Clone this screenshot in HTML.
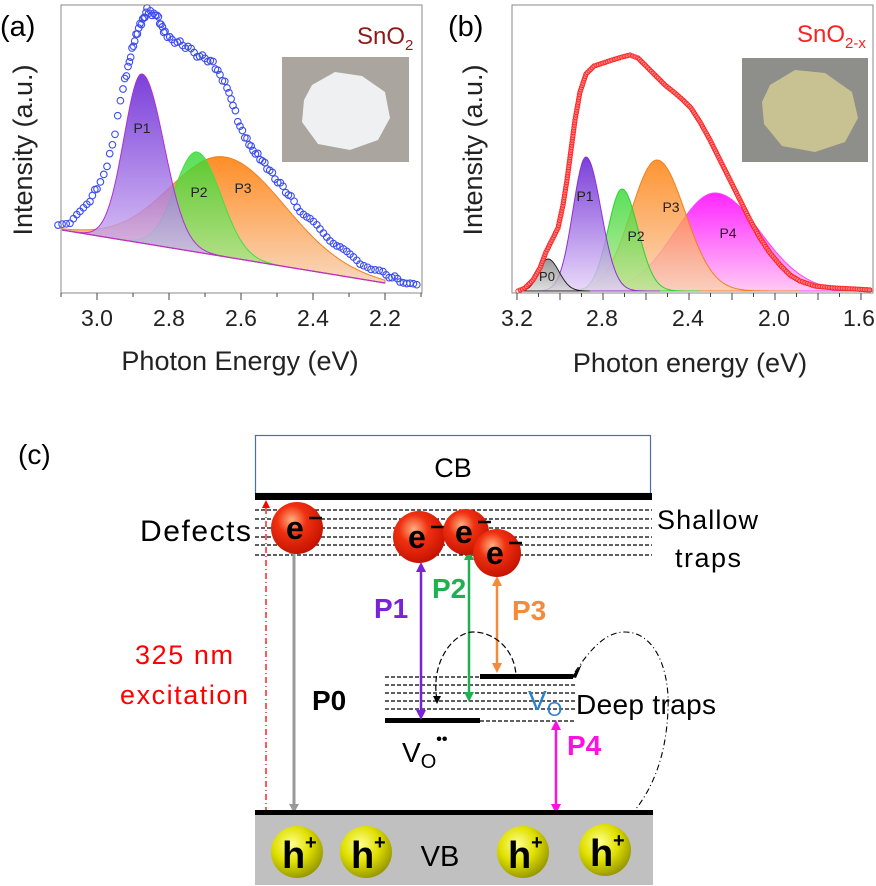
<!DOCTYPE html>
<html><head><meta charset="utf-8"><style>
body{margin:0;background:#fff}
svg{display:block;font-family:"Liberation Sans",sans-serif}
</style></head><body>
<svg id="s" width="876" height="886" viewBox="0 0 876 886" xmlns="http://www.w3.org/2000/svg">
<defs>
<linearGradient id="gP" x1="0" y1="0" x2="0" y2="1"><stop offset="0" stop-color="#5a10d0"/><stop offset="1" stop-color="#e4d0f8"/></linearGradient>
<linearGradient id="gG" x1="0" y1="0" x2="0" y2="1"><stop offset="0" stop-color="#30d830"/><stop offset="1" stop-color="#b8e890"/></linearGradient>
<linearGradient id="gO" x1="0" y1="0" x2="0" y2="1"><stop offset="0" stop-color="#ff7a00"/><stop offset="1" stop-color="#f8d0b0"/></linearGradient>
<linearGradient id="gM" x1="0" y1="0" x2="0" y2="1"><stop offset="0" stop-color="#ff00ff"/><stop offset="1" stop-color="#ffc0f4"/></linearGradient>
<linearGradient id="gK" x1="0" y1="0" x2="0" y2="1"><stop offset="0" stop-color="#808080"/><stop offset="1" stop-color="#d8d8d8"/></linearGradient>
<radialGradient id="rE" cx="0.4" cy="0.35" r="0.7"><stop offset="0" stop-color="#ffb080"/><stop offset="0.4" stop-color="#f03010"/><stop offset="1" stop-color="#c01000"/></radialGradient>
<radialGradient id="rH" cx="0.4" cy="0.35" r="0.7"><stop offset="0" stop-color="#ffff90"/><stop offset="0.5" stop-color="#e0e000"/><stop offset="1" stop-color="#909000"/></radialGradient>
</defs>
<g id="pa"></g>
<g id="pb"></g>
<rect x="61" y="5" width="361" height="288" fill="none" stroke="#888" stroke-width="1"/>
<rect x="282" y="57" width="127" height="105" fill="#aaa59e"/>
<path d="M312,85 L335,72 L362,76 L385,92 L390,118 L378,140 L350,150 L318,144 L302,122 L304,100Z" fill="#eef0f2"/>
<text x="0" y="36" font-size="29">(a)</text>
<text x="357" y="44" font-size="24" fill="#8b1a1a">SnO<tspan font-size="15" dy="6">2</tspan></text>
<text transform="translate(32,150) rotate(-90)" text-anchor="middle" font-size="27" fill="#222">Intensity (a.u.)</text>
<g font-size="23" text-anchor="middle" fill="#222">
<text x="97" y="326">3.0</text><text x="169" y="326">2.8</text><text x="241" y="326">2.6</text><text x="313" y="326">2.4</text><text x="385" y="326">2.2</text>
</g>
<text x="240" y="370" font-size="27" text-anchor="middle" fill="#222">Photon Energy (eV)</text>
<rect x="512" y="5" width="361" height="288" fill="none" stroke="#888" stroke-width="1"/>
<rect x="742" y="58" width="126" height="104" fill="#8e8f8a"/>
<path d="M770,85 L795,70 L825,73 L852,92 L858,118 L845,142 L815,152 L782,146 L764,124 L762,102Z" fill="#c8c292"/>
<text x="448" y="36" font-size="29">(b)</text>
<text x="797" y="42" font-size="24" fill="#ff2020">SnO<tspan font-size="15" dy="6">2-x</tspan></text>
<text transform="translate(482,150) rotate(-90)" text-anchor="middle" font-size="27" fill="#222">Intensity (a.u.)</text>
<g font-size="23" text-anchor="middle" fill="#222">
<text x="517" y="326">3.2</text><text x="602" y="326">2.8</text><text x="688" y="326">2.4</text><text x="774" y="326">2.0</text><text x="859" y="326">1.6</text>
</g>
<text x="690" y="372" font-size="27" text-anchor="middle" fill="#222">Photon energy (eV)</text>
<g id="ticks" stroke="#444" stroke-width="1"></g>

<text x="18" y="464" font-size="28">(c)</text>
<rect x="255.5" y="435.5" width="395" height="58" fill="#fff" stroke="#4a6fb0" stroke-width="1.2"/>
<text x="453" y="477" font-size="27" text-anchor="middle">CB</text>
<rect x="255" y="493" width="397" height="7" fill="#000"/>
<g stroke="#000" stroke-width="1.3" stroke-dasharray="4,2">
<line x1="255" y1="510" x2="652" y2="510"/><line x1="255" y1="519" x2="652" y2="519"/><line x1="255" y1="528" x2="652" y2="528"/><line x1="255" y1="537" x2="652" y2="537"/><line x1="255" y1="545" x2="652" y2="545"/><line x1="255" y1="555" x2="652" y2="555"/>
<line x1="385" y1="677" x2="575" y2="677"/><line x1="385" y1="685" x2="575" y2="685"/><line x1="385" y1="693" x2="575" y2="693"/><line x1="385" y1="701" x2="575" y2="701"/><line x1="385" y1="709" x2="575" y2="709"/><line x1="480" y1="721" x2="575" y2="721"/>
</g>
<text x="251" y="541" font-size="30" text-anchor="end" textLength="111">Defects</text>
<text x="657" y="529" font-size="27" textLength="101">Shallow</text>
<text x="675" y="567" font-size="27" textLength="66">traps</text>
<line x1="266" y1="813" x2="266" y2="506" stroke="#f00" stroke-width="1.3" stroke-dasharray="6,3,1,3"/>
<path d="M262,508L266,500L270,508z" fill="#f00"/>
<text x="184" y="664" font-size="27" fill="#f00" text-anchor="middle" textLength="98">325 nm</text>
<text x="184" y="704" font-size="27" fill="#f00" text-anchor="middle" textLength="128">excitation</text>
<line x1="294" y1="552" x2="294" y2="806" stroke="#999" stroke-width="3"/>
<path d="M289,554L294,545L299,554z M289,804L294,813L299,804z" fill="#999"/>
<text x="312" y="710" font-size="28" font-weight="bold">P0</text>
<rect x="385" y="718" width="95" height="5" fill="#000"/>
<rect x="480" y="674" width="93" height="5" fill="#000"/>
<text x="402" y="762" font-size="28">V<tspan font-size="20" dy="6">O</tspan><tspan font-size="16" dy="-24" font-weight="bold">••</tspan></text>
<text x="528" y="710" font-size="28" fill="#2a80d0">V<tspan font-size="20" dy="6">O</tspan></text>
<text x="576" y="714" font-size="28" textLength="140">Deep traps</text>
<g stroke-width="2.5">
<line x1="421" y1="570" x2="421" y2="712" stroke="#7a22d8"/>
<line x1="469" y1="558" x2="469" y2="694" stroke="#1fb050"/>
<line x1="497" y1="584" x2="497" y2="665" stroke="#f58a3a"/>
<line x1="556" y1="728" x2="556" y2="806" stroke="#ff10e0"/>
</g>
<path d="M416,572L421,562L426,572z M416,710L421,720L426,710z" fill="#7a22d8"/>
<path d="M464,560L469,550L474,560z M464,692L469,702L474,692z" fill="#1fb050"/>
<path d="M492,586L497,576L502,586z M492,663L497,673L502,663z" fill="#f58a3a"/>
<path d="M551,730L556,720L561,730z M551,804L556,814L561,804z" fill="#ff10e0"/>
<text x="374" y="618" font-size="28" font-weight="bold" fill="#7a22d8">P1</text>
<text x="432" y="598" font-size="28" font-weight="bold" fill="#1fb050">P2</text>
<text x="512" y="620" font-size="28" font-weight="bold" fill="#f58a3a">P3</text>
<text x="567" y="755" font-size="28" font-weight="bold" fill="#ff10e0">P4</text>
<path d="M437,700 C430,660 455,632 473,632 C495,632 515,650 516,676" fill="none" stroke="#000" stroke-width="1.2" stroke-dasharray="6,3"/>
<path d="M433,696L437,704L441,696z" fill="#000"/>
<path d="M575,672 C590,650 605,632 625,632 C655,632 670,670 668,710 C666,760 650,800 618,828" fill="none" stroke="#000" stroke-width="1.1" stroke-dasharray="6,3,1,3"/>
<path d="M572,676L582,664L576,678z" fill="#000"/>
<rect x="255" y="815" width="398" height="70" fill="#c0c0c0"/>
<rect x="255" y="810" width="398" height="5" fill="#000"/>
<text x="440" y="866" font-size="29" text-anchor="middle">VB</text>
<g id="balls"></g>
</svg>
<script>
const NS="http://www.w3.org/2000/svg";
function el(p,t,a){const e=document.createElementNS(NS,t);for(const k in a)e.setAttribute(k,a[k]);p.appendChild(e);return e;}
const tk=document.getElementById('ticks');
for(let i=0;i<=10;i++){const x=61+i*36;el(tk,'line',{x1:x,y1:293,x2:x,y2:i%2==1?300:297});}
for(let i=0;i<=16;i++){const x=517+i*21.5;if(x>873)break;el(tk,'line',{x1:x,y1:293,x2:x,y2:i%2==0?300:297});}
const pa=document.getElementById('pa');
function base(x){return 230+(x-62)*53/323;}
function gpath(c,h,sl,sr,x0,x1,bf){let d='';for(let x=x0;x<=x1;x+=1){const s=x<c?sl:sr;const y=bf(x)-h*Math.exp(-Math.pow(x-c,2)/(2*s*s));d+=(d?'L':'M')+x+','+y.toFixed(1);}for(let x=x1;x>=x0;x-=2)d+='L'+x+','+bf(x).toFixed(1);return d+'Z';}
el(pa,'path',{d:gpath(225,base(225)-157,55,60,62,385,base),fill:'url(#gO)','fill-opacity':0.85,stroke:'#f08020','stroke-width':1});
el(pa,'path',{d:gpath(197,base(197)-152,22,24,62,385,base),fill:'url(#gG)','fill-opacity':0.8,stroke:'#40e040','stroke-width':1});
el(pa,'path',{d:gpath(142,base(142)-74,18,22,62,385,base),fill:'url(#gP)','fill-opacity':0.8,stroke:'#b030d0','stroke-width':1});
el(pa,'line',{x1:62,y1:230,x2:385,y2:283,stroke:'#c030c0','stroke-width':1.2});
[['P1',142,133],['P2',199,197],['P3',243,193]].forEach(t=>{const e=el(pa,'text',{x:t[1],y:t[2],'font-size':14,fill:'#222','text-anchor':'middle'});e.textContent=t[0];});
const A=[[58,227],[70,224],[80,213],[90,200],[97,187],[107,167],[115,133],[123,87],[128,68],[132,50],[136,36],[140,25],[144,18],[147,10],[152,14],[157,15],[161,25],[165,33],[172,40],[180,43],[188,48],[197,55],[205,58],[213,63],[220,75],[227,87],[233,105],[240,127],[247,140],[253,150],[260,158],[267,167],[275,178],[283,187],[291,198],[300,210],[310,220],[320,230],[330,239],[340,247],[350,256],[360,263],[371,268],[383,273],[392,277],[400,280],[410,284],[420,288]];
for(let i=0;i<A.length-1;i++){const [x0,y0]=A[i],[x1,y1]=A[i+1];for(let t=0;t<1;t+=0.34){const x=x0+(x1-x0)*t,y=y0+(y1-y0)*t+(Math.sin(x*1.7)*2);el(pa,'circle',{cx:x.toFixed(1),cy:y.toFixed(1),r:3.3,fill:'none',stroke:'#3b4cf0','stroke-width':1.1});}}
const pb=document.getElementById('pb');
const bb=x=>291;
el(pb,'path',{d:gpath(715,98,40,45,600,873,bb),fill:'url(#gM)','fill-opacity':0.85,stroke:'#ff40ff','stroke-width':1});
el(pb,'path',{d:gpath(657,131,26,28,560,800,bb),fill:'url(#gO)','fill-opacity':0.8,stroke:'#f08020','stroke-width':1});
el(pb,'path',{d:gpath(622,102,14,16,560,700,bb),fill:'url(#gG)','fill-opacity':0.8,stroke:'#30d030','stroke-width':1});
el(pb,'path',{d:gpath(586,134,13,15,540,660,bb),fill:'url(#gP)','fill-opacity':0.8,stroke:'#9030d0','stroke-width':1});
el(pb,'path',{d:gpath(548,32,9,11,520,590,bb),fill:'url(#gK)','fill-opacity':0.8,stroke:'#222','stroke-width':1});
[['P0',547,281,13],['P1',585,201,14],['P2',636,241,14],['P3',671,212,14],['P4',728,238,14]].forEach(t=>{const e=el(pb,'text',{x:t[1],y:t[2],'font-size':t[3],fill:'#222','text-anchor':'middle'});e.textContent=t[0];});
const B=[[518,291],[525,288],[533,280],[540,268],[546,252],[552,240],[558,228],[563,205],[567,180],[571,150],[575,120],[580,92],[586,74],[594,66],[603,63],[612,60],[622,57],[630,55],[638,58],[646,66],[655,75],[665,85],[675,93],[683,100],[691,108],[700,122],[710,140],[720,160],[730,180],[740,200],[750,220],[760,238],[770,253],[780,265],[790,275],[800,281],[815,286],[835,288],[855,289],[872,290]];
el(pb,'polyline',{points:B.map(p=>p.join(',')).join(' '),fill:'none',stroke:'#ff3030','stroke-width':4});
for(let i=0;i<B.length-1;i++){const [x0,y0]=B[i],[x1,y1]=B[i+1];const n=Math.max(2,Math.round(Math.hypot(x1-x0,y1-y0)/2.5));for(let k=0;k<n;k++){const t=k/n;el(pb,'circle',{cx:(x0+(x1-x0)*t).toFixed(1),cy:(y0+(y1-y0)*t).toFixed(1),r:2.2,fill:'#fff','fill-opacity':0.3,stroke:'#ff2020','stroke-width':0.9});}}
const bl=document.getElementById('balls');
[[297,528,26],[419,537,26],[466,532,23],[497,553,24]].forEach(b=>{el(bl,'circle',{cx:b[0],cy:b[1],r:b[2],fill:'url(#rE)'});const t=el(bl,'text',{x:b[0]-11,y:b[1]+11,'font-size':32,'font-weight':'bold',fill:'#000'});t.textContent='e';el(bl,'line',{x1:b[0]+12,y1:b[1]-10,x2:b[0]+25,y2:b[1]-10,stroke:'#000','stroke-width':2.5});});
[[297,852],[366,852],[523,852],[605,850]].forEach(b=>{el(bl,'circle',{cx:b[0],cy:b[1],r:26,fill:'url(#rH)'});const t=el(bl,'text',{x:b[0]-15,y:b[1]+16,'font-size':38,'font-weight':'bold',fill:'#000'});t.textContent='h';const u=el(bl,'text',{x:b[0]+8,y:b[1]-3,'font-size':20,'font-weight':'bold',fill:'#000'});u.textContent='+';});
</script>
</body></html>
